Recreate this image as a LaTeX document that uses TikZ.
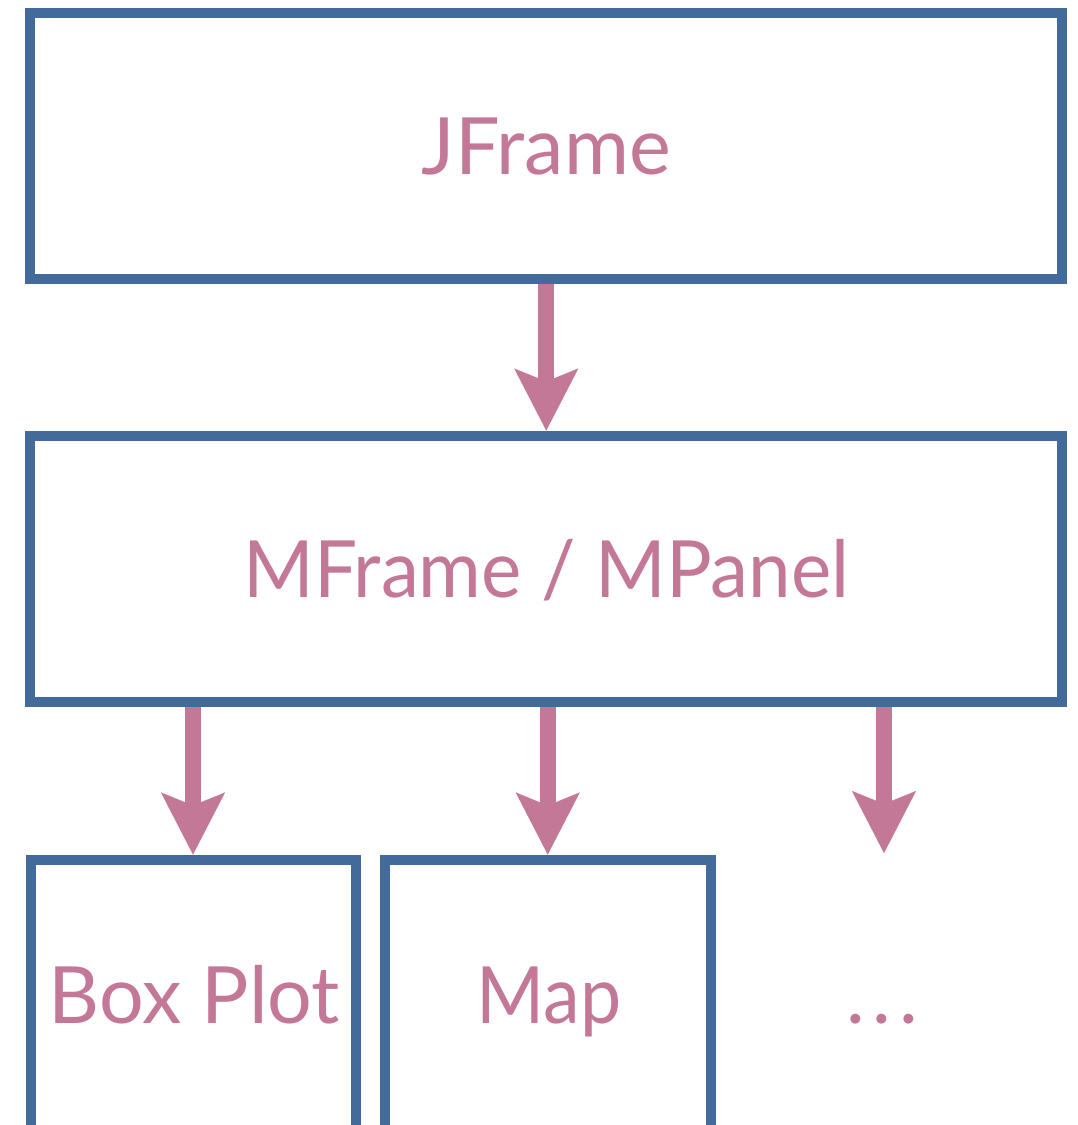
\documentclass[tikz,border=0pt]{standalone}
\usepackage{fontspec}
\setmainfont{Lato}
\usetikzlibrary{arrows.meta}
\definecolor{boxblue}{HTML}{426A9B}
\definecolor{labelpink}{HTML}{C47897}
\begin{document}
\begin{tikzpicture}[x=1pt,y=-1pt,
  frame/.style={draw=boxblue, line width=10pt, inner sep=0pt},
  lbl/.style={text=labelpink, font=\fontsize{79}{84}\selectfont, inner sep=0pt},
  conn/.style={draw=labelpink, line width=16pt,
    -{Stealth[length=62pt,width=64pt,inset=13pt,line width=0.01pt]}}]
\useasboundingbox (0,0) rectangle (1077,1125);
\clip (0,0) rectangle (1077,1125);

% container hierarchy
\node[frame, lbl, minimum width=1032pt, minimum height=265.5pt,
      text height=57pt, text depth=0pt] (jframe) at (546.25,146) {JFrame};
\node[frame, lbl, minimum width=1032pt, minimum height=266.5pt,
      text height=57pt, text depth=0pt] (mid) at (546.25,568.75)
      {\scalebox{0.965}[1]{MFrame / MPanel}};

% child views (open at the bottom edge)
\node[frame, minimum width=325pt, minimum height=285.5pt] (bpbox) at (193,1002.25) {};
\node[frame, minimum width=325.5pt, minimum height=285.5pt] (mapbox) at (547.75,1002.25) {};

\node[lbl, anchor=base] (bplabel) at (194.5,1023) {Box Plot};
\node[lbl, anchor=base] (maplabel) at (549,1023) {\scalebox{0.93}[1]{Map}};
\node[lbl, anchor=base] (more) at (882,1023) {.\kern8pt.\kern8pt.};
\coordinate (moretip) at (884,853);

% connectors
\draw[conn] (jframe.south) -- (mid.north);
\draw[conn] (mid.south -| bpbox.north) -- (bpbox.north);
\draw[conn] (mid.south -| mapbox.north) -- (mapbox.north);
\draw[conn] (mid.south -| moretip) -- (moretip);
\end{tikzpicture}
\end{document}
